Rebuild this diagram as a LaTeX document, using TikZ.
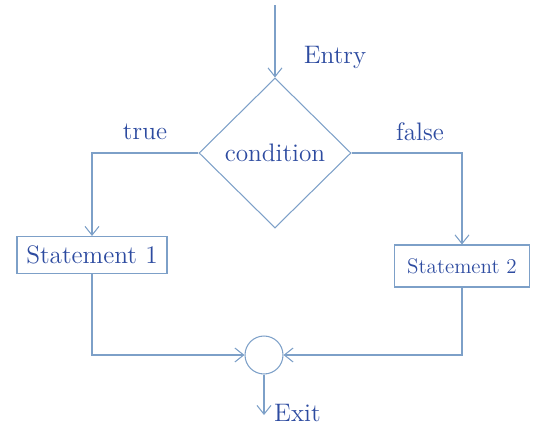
\documentclass[tikz,border=0pt]{standalone}
\usepackage{tikz}
\usetikzlibrary{shapes.geometric, arrows.meta}
\definecolor{penBlue}{RGB}{125, 160, 200}
\definecolor{inkBlue}{RGB}{45, 75, 160}

\tikzset{
  flow/.style={penBlue, line width=0.6pt, -{Straight Barb[length=5pt, width=8pt]}},
  stmt/.style={draw=penBlue, line width=0.6pt, text=inkBlue, inner sep=1pt},
  lbl/.style={text=inkBlue, font=\Large}
}

\begin{document}
\begin{tikzpicture}[x=0.02cm, y=-0.02cm]
        \useasboundingbox (0,0) rectangle (535,437);
        % decision and the two branches
        \node[draw=penBlue, line width=0.6pt, diamond, minimum width=3.04cm, minimum height=3cm,
              inner sep=0pt, text=inkBlue, font=\Large] (cond) at (275,153) {condition};
        \node[stmt, minimum width=3cm, minimum height=0.74cm, font=\Large] (st1) at (92,255) {Statement 1};
        \node[stmt, minimum width=2.7cm, minimum height=0.84cm, font=\large] (st2) at (462,266) {Statement 2};
        % join point
        \node[draw=penBlue, line width=0.6pt, circle, minimum size=0.76cm, inner sep=0pt] (join) at (264,355) {};
        \coordinate (entry) at (275,5);
        \coordinate (exit) at (264,415);
        % labels
        \node[lbl] (entrylbl) at (335,57) {Entry};
        \node[lbl] (truelbl) at (145,132) {true};
        \node[lbl] (falselbl) at (420,132) {false};
        \node[lbl, anchor=west] (exitlbl) at (268,413) {Exit};
        % connectors
        \draw[flow] (entry) -- (cond.north);
        \draw[flow] (cond.west) -| (st1.north);
        \draw[flow] (cond.east) -| (st2.north);
        \draw[flow] (st1.south) |- (join.west);
        \draw[flow] (st2.south) |- (join.east);
        \draw[flow] (join.south) -- (exit);
      \end{tikzpicture}
\end{document}
